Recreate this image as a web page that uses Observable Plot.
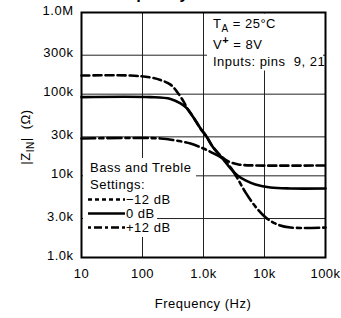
<!DOCTYPE html>
<html><head><meta charset="utf-8">
<script src="https://cdn.jsdelivr.net/npm/d3@7"></script>
<script src="https://cdn.jsdelivr.net/npm/@observablehq/plot@0.6"></script>
<style>
body{margin:0;background:#fff;}
#wrap{position:relative;width:341px;height:318px;overflow:hidden;font-family:"Liberation Sans",Arial,sans-serif;}
#title{position:absolute;left:82px;top:-14px;font-weight:bold;font-size:16px;line-height:16px;letter-spacing:0.3px;white-space:nowrap;}
</style></head><body><div id="wrap"></div>
<script>
// Frequency (Hz) and |Z_IN| (ohm) for each bass/treble setting
const minus12Freq = [10, 64, 135, 197, 288, 375, 470, 547, 685, 893, 1120, 1405, 2050, 2570, 3750, 7100, 100000];
const minus12Z    = [169000, 169000, 160000, 149000, 131000, 105000, 81500, 65900, 51900, 38000, 30300, 22900, 16800, 15000, 13800, 13400, 13400];
const zeroFreq    = [10, 135, 288, 420, 547, 685, 893, 1120, 1405, 2050, 2770, 3610, 4880, 7100, 12500, 26700, 100000];
const zeroZ       = [92000, 92000, 87400, 76900, 65900, 51900, 38000, 30300, 22900, 16300, 12300, 10100, 8800, 7850, 7200, 7000, 7000];
const plus12Freq  = [10, 197, 348, 612, 1000, 1460, 2050, 2770, 3610, 4880, 7100, 10400, 16300, 26700, 100000];
const plus12Z     = [28700, 28700, 27100, 24900, 21600, 18800, 16300, 12700, 9300, 6270, 4200, 3100, 2540, 2330, 2330];

const xTicks = [10, 100, 1000, 10000, 100000];
const xTickLabels = ["10", "100", "1.0k", "10k", "100k"];
const yTicks = [1000, 3000, 10000, 30000, 100000, 300000, 1000000];
const yTickLabels = ["1.0k", "3.0k", "10k", "30k", "100k", "300k", "1.0M"];

const seriesNames = ["−12 dB", "0 dB", "+12 dB"];
const seriesDash = ["8,4", null, "14,4,4,4"];

const toRows = (f, z) => f.map((v, i) => ({f: v, z: z[i]}));
const series = [toRows(minus12Freq, minus12Z), toRows(zeroFreq, zeroZ), toRows(plus12Freq, plus12Z)];

const xFmt = new Map(xTicks.map((t, i) => [t, xTickLabels[i]]));
const yFmt = new Map(yTicks.map((t, i) => [t, yTickLabels[i]]));

const chart = Plot.plot({
  width: 341, height: 318,
  marginLeft: 81, marginRight: 16, marginTop: 12, marginBottom: 61,
  style: {fontFamily: "'Liberation Sans', Arial, sans-serif", fontSize: "13px", background: "white", letterSpacing: "0.5px", color: "black"},
  x: {type: "log", domain: [10, 100000], axis: null},
  y: {type: "log", domain: [1000, 1000000], axis: null},
  marks: [
    Plot.ruleX(xTicks, {x: d => d, stroke: "#222", strokeWidth: 1}),
    Plot.ruleY(yTicks, {y: d => d, stroke: "#222", strokeWidth: 1}),
    ...series.map((rows, i) => Plot.line(rows, {x: "f", y: "z", curve: "catmull-rom", stroke: "black", strokeWidth: 2.6, strokeDasharray: seriesDash[i], className: "curve"})),
    Plot.text(xTicks, {x: d => d, text: d => xFmt.get(d), frameAnchor: "bottom", lineAnchor: "top", dy: 11, fill: "black", fontSize: 13}),
    Plot.text(yTicks, {y: d => d, text: d => yFmt.get(d), frameAnchor: "left", textAnchor: "end", dx: -8, dy: -2, fill: "black", fontSize: 13}),
    Plot.frame({stroke: "black", strokeWidth: 2})
  ]
});
document.getElementById("wrap").appendChild(chart);
const t = document.createElement("div"); t.id = "title"; t.textContent = "vs Frequency";
document.getElementById("wrap").appendChild(t);

const svg = d3.select(chart);
// white backgrounds for annotation and legend (inserted under the curves)
const bg = svg.insert("g", ".curve").attr("fill", "white");
bg.append("rect").attr("x", 207).attr("y", 13.5).attr("width", 116).attr("height", 57);
bg.append("rect").attr("x", 83).attr("y", 158).attr("width", 113).attr("height", 34);
bg.append("rect").attr("x", 83).attr("y", 192).attr("width", 74).attr("height", 45);

const txt = svg.append("g").attr("font-size", 13).attr("fill", "black").attr("letter-spacing", "0.5px").attr("text-anchor", "start");
// condition annotation
const a1 = txt.append("text").attr("x", 213).attr("y", 28);
a1.append("tspan").text("T");
a1.append("tspan").attr("font-size", 10).attr("dy", 4).text("A");
a1.append("tspan").attr("dy", -4).text(" = 25°C");
const a2 = txt.append("text").attr("x", 213).attr("y", 49);
a2.append("tspan").text("V");
a2.append("tspan").attr("font-size", 11).attr("font-weight", "bold").attr("dy", -5).text("+");
a2.append("tspan").attr("dy", 5).text(" = 8V");
txt.append("text").attr("x", 213).attr("y", 66).text("Inputs: pins  9, 21");

// legend
txt.append("text").attr("x", 90).attr("y", 172).text("Bass and Treble");
txt.append("text").attr("x", 90).attr("y", 189).text("Settings:");
const legY = [204, 218, 232];
seriesNames.forEach((name, i) => {
  svg.append("line").attr("x1", 88).attr("x2", 125).attr("y1", legY[i] - 4.5).attr("y2", legY[i] - 4.5)
    .attr("stroke", "black").attr("stroke-width", 2.4)
    .attr("stroke-dasharray", i === 0 ? "4,3" : i === 2 ? "3,3,8,3" : null);
  txt.append("text").attr("x", 126).attr("y", legY[i]).text(name);
});

// axis titles
const yl = txt.append("text").attr("text-anchor", "middle").attr("transform", "translate(30,137) rotate(-90)");
yl.append("tspan").text("|Z");
yl.append("tspan").attr("font-size", 10).attr("dy", 4).text("IN");
yl.append("tspan").attr("dy", -4).text("|  (Ω)");
txt.append("text").attr("x", 203).attr("y", 308).attr("text-anchor", "middle").text("Frequency (Hz)");
</script>
</body></html>
